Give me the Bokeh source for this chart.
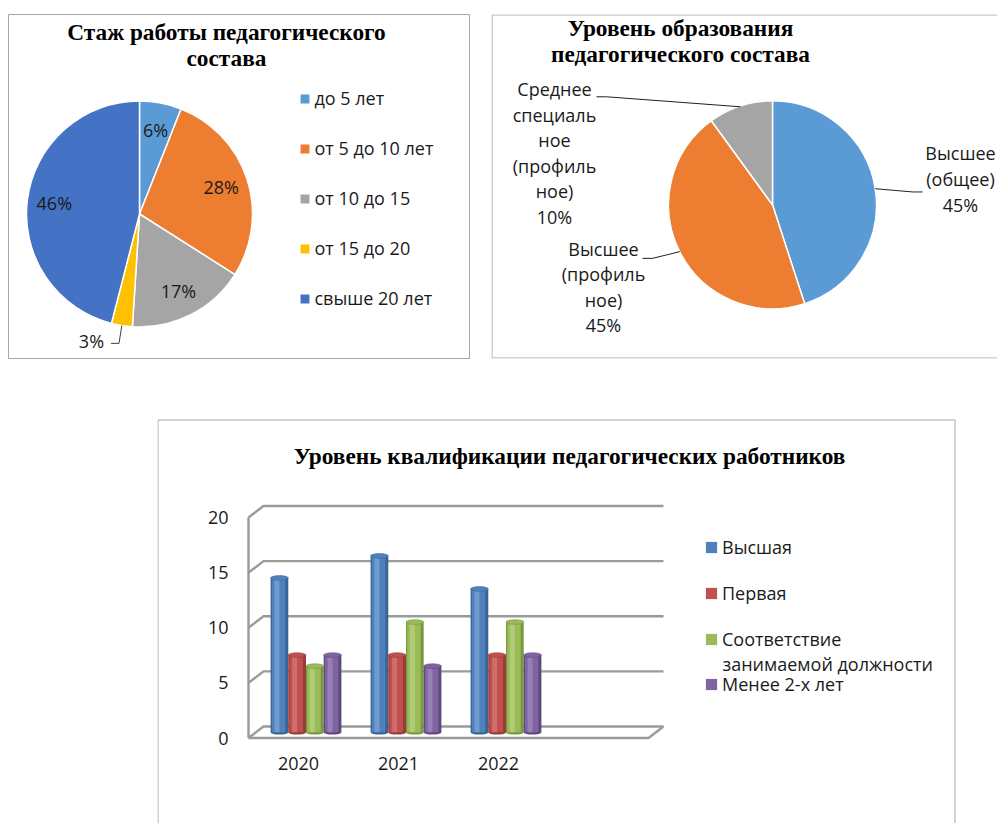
import math
from bokeh.plotting import figure
from bokeh.models import (Range1d, Legend, LegendItem, FixedTicker, LinearAxis,
                          Spacer, ColumnDataSource)
from bokeh.layouts import column, row
from bokeh.core.properties import value
from bokeh.embed import file_html
from bokeh.resources import INLINE

# ---------------- data ----------------
exp_title = "Стаж работы педагогического\nсостава"
exp_labels = ["до 5 лет", "от 5 до 10 лет", "от 10 до 15", "от 15 до 20", "свыше 20 лет"]
exp_values = [6, 28, 17, 3, 46]
exp_colors = ["#5B9BD5", "#ED7D31", "#A5A5A5", "#FFC000", "#4472C4"]

edu_title = "Уровень образования\nпедагогического состава"
edu_labels = ["Высшее\n(общее)", "Высшее\n(профиль\nное)", "Среднее\nспециаль\nное\n(профиль\nное)"]
edu_values = [45, 45, 10]
edu_colors = ["#5B9BD5", "#ED7D31", "#A5A5A5"]

qual_title = "Уровень квалификации педагогических работников"
years = ["2020", "2021", "2022"]
series_names = ["Высшая", "Первая", "Соответствие занимаемой должности", "Менее 2-х лет"]
vysshaya = [14, 16, 13]
pervaya = [7, 7, 7]
sootvetstvie = [6, 10, 10]
menee2 = [7, 6, 7]
y_ticks = [0, 5, 10, 15, 20]

# ---------------- style ----------------
SANS = "Open Sans"
SERIF = "Liberation Serif"
FS = "18px"
TFS = "23.3px"
TXT = "#1A1A1A"
BOX = "#A6A6A6"
GRID = "#9A9A9A"


def base_fig(width, height, xr, yr, **kw):
    p = figure(width=width, height=height, x_range=xr, y_range=yr,
               output_backend="svg", toolbar_location=None,
               x_axis_location=None, y_axis_location=None, **kw)
    p.outline_line_color = None
    p.background_fill_color = "white"
    p.border_fill_color = "white"
    p.grid.grid_line_color = None
    p.grid.visible = False
    return p


def pie_angles(values):
    total = sum(values)
    cum = 0
    out = []
    for v in values:
        f0 = cum / total
        cum += v
        f1 = cum / total
        out.append((math.pi / 2 - 2 * math.pi * f1,
                    math.pi / 2 - 2 * math.pi * f0,
                    math.pi / 2 - math.pi * (f0 + f1)))
    return out


# ======================= chart A =======================
A_LEFT, A_BOTTOM = 8, 358


def ax(px):
    return px - A_LEFT


def ay(py):
    return A_BOTTOM - py


pA = base_fig(483, 368, Range1d(0, 461), Range1d(0, 344),
              min_border_left=8, min_border_right=14, min_border_top=14, min_border_bottom=10)
pA.outline_line_color = BOX

acx, acy, aR = ax(139), ay(213.5), 113
angA = pie_angles(exp_values)
srcA = ColumnDataSource(dict(start=[a[0] for a in angA], end=[a[1] for a in angA],
                             color=exp_colors))
rA = pA.wedge(x=acx, y=acy, radius=aR, start_angle="start", end_angle="end",
              fill_color="color", line_color="white", line_width=1.5, source=srcA)

totA = sum(exp_values)
lx, ly, lt = [], [], []
for v, (a0, a1, am) in zip(exp_values, angA):
    pct = f"{round(100 * v / totA)}%"
    if v / totA < 0.05:
        ex, ey = acx + aR * math.cos(am), acy + aR * math.sin(am)
        kx, ky = acx + (aR + 18) * math.cos(am), acy + (aR + 18) * math.sin(am)
        pA.line([ex, kx, kx - 8], [ey, ky, ky], line_color="#404040", line_width=1)
        pA.text(x=[kx - 15], y=[ky + 2], text=[pct], text_align="right", text_baseline="middle",
                text_font=value(SANS), text_font_size=FS, text_color=TXT)
    else:
        lx.append(acx + 0.76 * aR * math.cos(am))
        ly.append(acy + 0.76 * aR * math.sin(am))
        lt.append(pct)
pA.text(x=lx, y=ly, text=lt, text_align="center", text_baseline="middle",
        text_font=value(SANS), text_font_size=FS, text_color=TXT)

pA.text(x=[ax(226)], y=[ay(18)], text=[exp_title], text_align="center", text_baseline="top",
        text_font=value(SERIF), text_font_style="bold", text_font_size=TFS,
        text_line_height=1.0, text_color="#000000")

legA = Legend(items=[LegendItem(label=l, renderers=[rA], index=i) for i, l in enumerate(exp_labels)],
              location=(ax(297.5), ay(311)), orientation="vertical",
              glyph_width=13, glyph_height=13, label_standoff=4, spacing=24, label_height=26,
              padding=0, margin=0, border_line_color=None, background_fill_alpha=0,
              label_text_font=SANS, label_text_font_size=FS, label_text_color=TXT)
pA.add_layout(legA)

# ======================= chart B =======================
B_LEFT, B_BOTTOM = 491, 358


def bx(px):
    return px - B_LEFT


def by(py):
    return B_BOTTOM - py


pB = base_fig(514, 368, Range1d(0, 506), Range1d(0, 347),
              min_border_left=8, min_border_right=0, min_border_top=11, min_border_bottom=10)
pB.quad(left=[bx(491.5)], right=[bx(1100)], bottom=[by(357.5)], top=[by(11.5)],
        fill_color=None, line_color=BOX, line_width=1)

bcx, bcy, bR = bx(772), by(203), 104
angB = pie_angles(edu_values)
srcB = ColumnDataSource(dict(start=[a[0] for a in angB], end=[a[1] for a in angB],
                             color=edu_colors))
pB.wedge(x=bcx, y=bcy, radius=bR, start_angle="start", end_angle="end",
         fill_color="color", line_color="white", line_width=1.5, source=srcB)

# label anchors (page px): text centre x, first-line centre y, leader end x, leader end y
edu_label_pos = [(960, 155, 922, 190), (603, 251, 642, 257), (554, 90, 596, 94)]
totB = sum(edu_values)
for lab, v, (a0, a1, am), (tx, ty, lex, ley) in zip(edu_labels, edu_values, angB, edu_label_pos):
    ex, ey = bcx + bR * math.cos(am), bcy + bR * math.sin(am)
    side = 1 if math.cos(am) > 0 else -1
    pB.line([ex, bx(lex) - side * 10, bx(lex)], [ey, by(ley), by(ley)],
            line_color="#202020", line_width=1)
    pB.text(x=[bx(tx)], y=[by(ty - 16)], text=[f"{lab}\n{round(100 * v / totB)}%"],
            text_align="center", text_baseline="top", text_font=value(SANS),
            text_font_size=FS, text_line_height=1.065, text_color=TXT)

pB.text(x=[bx(680)], y=[by(12)], text=[edu_title], text_align="center", text_baseline="top",
        text_font=value(SERIF), text_font_style="bold", text_font_size=TFS,
        text_line_height=1.0, text_color="#000000")

# ======================= chart C =======================
X0_PAGE, PX_X = 248, 100.0      # front plane: x=0 at page 248, 100 px per category
Y0_PAGE, PX_Y = 737.5, 11.025   # front plane: y=0 at page 737.5
C_LEFT, C_TOP, C_W, C_H = 157, 368, 840, 455


def cx(px):
    return (px - X0_PAGE) / PX_X


def cy(py):
    return (Y0_PAGE - py) / PX_Y


pC = base_fig(C_W, C_H, Range1d(cx(C_LEFT), cx(C_LEFT + C_W)), Range1d(cy(C_TOP + C_H), cy(C_TOP)),
              min_border_left=0, min_border_right=0, min_border_top=0, min_border_bottom=0)
pC.quad(left=[cx(157.5)], right=[cx(954.5)], bottom=[cy(1000)], top=[cy(419.5)],
        fill_color=None, line_color=BOX, line_width=1)

N_SLOTS = 4
DX, DY = 15 / PX_X, 11.5 / PX_Y
BW = 0.177

# 3D walls / gridlines
gx, gy = [], []
for t in y_ticks:
    gx.append([0, DX, N_SLOTS + DX])
    gy.append([t, t + DY, t + DY])
gx.append([0, 0])
gy.append([0, max(y_ticks)])
gx.append([0, N_SLOTS, N_SLOTS + DX])
gy.append([0, 0, DY])
pC.multi_line(xs=gx, ys=gy, line_color=GRID, line_width=2.4)

shades = [("#3A6494", "#4F81BD", "#7FA6D6"),
          ("#963C3A", "#C0504D", "#D67A77"),
          ("#779A3E", "#9BBB59", "#B8D283"),
          ("#5E4A7D", "#8064A2", "#A08AC0")]
series_vals = [vysshaya, pervaya, sootvetstvie, menee2]
main_r = []
for j, (vals, (dark, main, light)) in enumerate(zip(series_vals, shades)):
    xs = [i + 0.5 + DX / 2 + (j - 1.5) * BW for i in range(len(years))]
    src = ColumnDataSource(dict(
        x=xs, xm=[x - 0.05 * BW for x in xs], xh=[x - 0.14 * BW for x in xs],
        top=[v + DY / 2 for v in vals], bot=[DY / 2] * len(vals)))
    pC.ellipse(x="x", y="bot", width=BW, height=0.42, fill_color=dark, line_color=None, source=src)
    pC.vbar(x="x", width=BW, bottom="bot", top="top", fill_color=dark, line_color=None, source=src)
    r = pC.vbar(x="xm", width=0.76 * BW, bottom="bot", top="top", fill_color=main,
                line_color=None, source=src)
    pC.vbar(x="xh", width=0.28 * BW, bottom="bot", top="top", fill_color=light,
            fill_alpha=0.7, line_color=None, source=src)
    pC.ellipse(x="x", y="top", width=BW, height=0.42, fill_color=main, line_color=dark,
               line_width=0.6, source=src)
    main_r.append(r)

# axes (fixed inside the box)
yax = LinearAxis(fixed_location=0, ticker=FixedTicker(ticks=y_ticks),
                 axis_line_color=None, major_tick_line_color=None, minor_tick_line_color=None,
                 major_tick_out=0, major_tick_in=0, major_label_standoff=20,
                 major_label_text_font=SANS, major_label_text_font_size=FS,
                 major_label_text_color=TXT)
pC.add_layout(yax, "left")
xax = LinearAxis(fixed_location=0, ticker=FixedTicker(ticks=[i + 0.5 for i in range(len(years))]),
                 major_label_overrides={i + 0.5: y for i, y in enumerate(years)},
                 axis_line_color=None, major_tick_line_color=None, minor_tick_line_color=None,
                 major_tick_out=0, major_tick_in=0, major_label_standoff=19,
                 major_label_text_font=SANS, major_label_text_font_size=FS,
                 major_label_text_color=TXT)
pC.add_layout(xax, "below")

pC.text(x=[cx(569)], y=[cy(455)], text=[qual_title], text_align="center", text_baseline="middle",
        text_font=value(SERIF), text_font_style="bold", text_font_size=TFS, text_color="#000000")

# legend (C frame bottom-left is page (157, 823))
first, rest = series_names[2].split(" ", 1)
C_BOTTOM = C_TOP + C_H
leg_kw = dict(orientation="vertical", glyph_width=14, glyph_height=14, label_standoff=4,
              label_height=26, padding=0, margin=0, border_line_color=None,
              background_fill_alpha=0, label_text_font=SANS, label_text_font_size=FS,
              label_text_color=TXT)
legC1 = Legend(items=[LegendItem(label=series_names[0], renderers=[main_r[0]]),
                      LegendItem(label=series_names[1], renderers=[main_r[1]]),
                      LegendItem(label=first, renderers=[main_r[2]])],
               location=(704 - C_LEFT, C_BOTTOM - 652), spacing=20, **leg_kw)
legC2 = Legend(items=[LegendItem(label=series_names[3], renderers=[main_r[3]])],
               location=(704 - C_LEFT, C_BOTTOM - 697), spacing=20, **leg_kw)
pC.add_layout(legC1)
pC.add_layout(legC2)
pC.text(x=[cx(722)], y=[cy(663)], text=[rest], text_align="left", text_baseline="middle",
        text_font=value(SANS), text_font_size=FS, text_color=TXT)

layout = column(row(pA, pB), row(Spacer(width=C_LEFT, height=C_H), pC))
open("out.html", "w").write(file_html(layout, INLINE))
